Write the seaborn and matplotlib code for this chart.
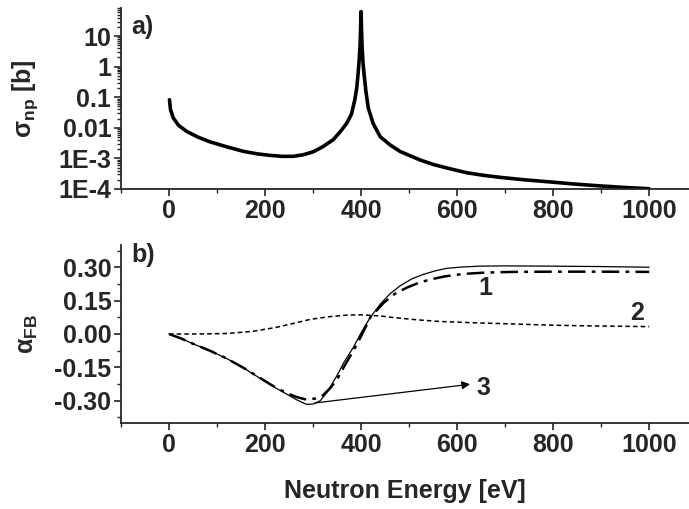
import numpy as np
import pandas as pd
import seaborn as sns
import matplotlib
matplotlib.use('Agg')
import matplotlib.pyplot as plt
from matplotlib.ticker import MultipleLocator, LogLocator, NullFormatter

# a) capture cross section
energy_a = [1, 3, 9, 20, 37, 60, 85, 120, 155, 185, 210, 235, 259, 280, 301, 320,
            342, 357, 370, 380, 387, 391, 394, 396, 398, 399, 400, 401, 402, 404,
            406, 410, 415, 425, 440, 460, 481, 500, 523, 551, 585, 620, 655, 690,
            740, 794, 845, 898, 950, 1000]
sigma_np = [0.083, 0.040, 0.021, 0.012, 0.0076, 0.0050, 0.0035, 0.0024, 0.0017,
            0.0014, 0.00126, 0.00117, 0.00117, 0.00132, 0.00166, 0.0024, 0.0041,
            0.0076, 0.014, 0.028, 0.083, 0.20, 0.63, 1.6, 5.0, 16, 63, 16, 5.0,
            1.4, 0.63, 0.16, 0.045, 0.014, 0.0051, 0.0028, 0.0017, 0.00126,
            0.00089, 0.00063, 0.00046, 0.00034, 0.00028, 0.00024, 0.00020,
            0.00017, 0.000145, 0.000126, 0.000112, 0.000102]

# b) forward-backward asymmetry curves
energy_3 = [0, 25, 51, 85, 120, 155, 190, 220, 245, 265, 286, 300, 315, 330, 349,
            365, 384, 400, 419, 440, 460, 481, 505, 530, 555, 578, 610, 648, 700,
            787, 900, 1000]
alpha_3 = [0, -0.02, -0.045, -0.075, -0.11, -0.152, -0.20, -0.24, -0.27, -0.295,
           -0.316, -0.315, -0.30, -0.26, -0.19, -0.125, -0.06, 0.005, 0.074,
           0.134, 0.18, 0.216, 0.247, 0.268, 0.284, 0.295, 0.301, 0.305, 0.306,
           0.305, 0.303, 0.30]

energy_1 = [0, 25, 51, 85, 120, 155, 190, 220, 245, 265, 286, 305, 321, 335, 349,
            365, 384, 400, 419, 447, 470, 495, 520, 544, 575, 613, 660, 717, 800,
            900, 1000]
alpha_1 = [0, -0.02, -0.045, -0.075, -0.11, -0.152, -0.198, -0.238, -0.265,
           -0.283, -0.295, -0.29, -0.275, -0.245, -0.208, -0.145, -0.075, -0.01,
           0.074, 0.14, 0.18, 0.208, 0.23, 0.245, 0.259, 0.27, 0.276, 0.279,
           0.28, 0.28, 0.279]

energy_2 = [0, 60, 120, 175, 224, 260, 295, 335, 372, 400, 440, 467, 510, 557,
            578, 640, 717, 790, 856, 930, 1000]
alpha_2 = [0, 0.0, 0.002, 0.012, 0.03, 0.048, 0.066, 0.078, 0.085, 0.086, 0.081,
           0.074, 0.065, 0.057, 0.055, 0.05, 0.045, 0.04, 0.037, 0.035, 0.033]

top_ticks = [1e-4, 1e-3, 0.01, 0.1, 1, 10]
top_labels = ['1E-4', '1E-3', '0.01', '0.1', '1', '10']
bot_ticks = [-0.30, -0.15, 0.00, 0.15, 0.30]
x_ticks = [0, 200, 400, 600, 800, 1000]

sns.set_style('ticks')
plt.rcParams['font.family'] = ['Liberation Sans', 'DejaVu Sans']
plt.rcParams['font.weight'] = 'bold'
plt.rcParams['axes.labelweight'] = 'bold'
plt.rcParams['font.size'] = 18

fig = plt.figure(figsize=(6.89, 5.09), dpi=100)
ax1 = fig.add_axes([0.1756, 0.6287, 0.8244, 0.3556])
ax2 = fig.add_axes([0.1756, 0.169, 0.8244, 0.3497])

df_a = pd.DataFrame({'E': energy_a, 'sigma': sigma_np})
sns.lineplot(data=df_a, x='E', y='sigma', ax=ax1, color='black', lw=2.6,
             sort=False, estimator=None)
ax1.set_yscale('log')
ax1.set_ylim(1e-4, 83)
ax1.set_yticks(top_ticks)
ax1.set_yticklabels(top_labels)
ax1.yaxis.set_minor_locator(LogLocator(base=10, subs=np.arange(2, 10), numticks=20))
ax1.yaxis.set_minor_formatter(NullFormatter())
ax1.set_ylabel(r'σ$_\mathregular{np}$ [b]')
ax1.set_xlabel('')
ax1.text(0.018, 0.895, 'a)', transform=ax1.transAxes, fontsize=18,
         fontweight='bold', va='center')

df_b = pd.concat([
    pd.DataFrame({'E': energy_3, 'alpha': alpha_3, 'curve': '3'}),
    pd.DataFrame({'E': energy_1, 'alpha': alpha_1, 'curve': '1'}),
    pd.DataFrame({'E': energy_2, 'alpha': alpha_2, 'curve': '2'}),
])
sns.lineplot(data=df_b[df_b.curve == '3'], x='E', y='alpha', ax=ax2,
             color='black', lw=0.9, sort=False, estimator=None)
sns.lineplot(data=df_b[df_b.curve == '1'], x='E', y='alpha', ax=ax2,
             color='black', lw=1.8, sort=False, estimator=None,
             linestyle=(0, (7, 2.5, 1.5, 2.5)))
sns.lineplot(data=df_b[df_b.curve == '2'], x='E', y='alpha', ax=ax2,
             color='black', lw=1.1, sort=False, estimator=None,
             linestyle=(0, (3, 2)))
ax2.set_ylim(-0.4, 0.4)
ax2.set_yticks(bot_ticks)
ax2.set_yticklabels(['%.2f' % t for t in bot_ticks])
ax2.yaxis.set_minor_locator(MultipleLocator(0.075))
ax2.set_ylabel(r'α$_\mathregular{FB}$')
ax2.set_xlabel('Neutron Energy [eV]', labelpad=16)
ax2.text(0.018, 0.944, 'b)', transform=ax2.transAxes, fontsize=18,
         fontweight='bold', va='center')

ax2.annotate('', xy=(627, -0.226), xytext=(304, -0.31),
             arrowprops=dict(arrowstyle='-|>', color='black', lw=0.9,
                             mutation_scale=12, shrinkA=0, shrinkB=0))
ax2.text(655, -0.245, '3', fontsize=18, fontweight='bold', ha='center', va='center')
ax2.text(658, 0.208, '1', fontsize=18, fontweight='bold', ha='center', va='center')
ax2.text(974, 0.096, '2', fontsize=18, fontweight='bold', ha='center', va='center')

for ax in (ax1, ax2):
    ax.set_xlim(-100, 1083)
    ax.set_xticks(x_ticks)
    ax.xaxis.set_minor_locator(MultipleLocator(100))
    ax.yaxis.set_label_coords(-0.143, 0.5)
    sns.despine(ax=ax)
    ax.spines['left'].set_linewidth(1.3)
    ax.spines['bottom'].set_linewidth(1.3)
    ax.tick_params(which='major', direction='out', length=5, width=1.2,
                   labelsize=18, pad=2)
    ax.tick_params(which='minor', direction='out', length=3, width=1.0)
    for lab in ax.get_xticklabels() + ax.get_yticklabels():
        lab.set_fontweight('bold')

fig.savefig('out.png', dpi=100)
